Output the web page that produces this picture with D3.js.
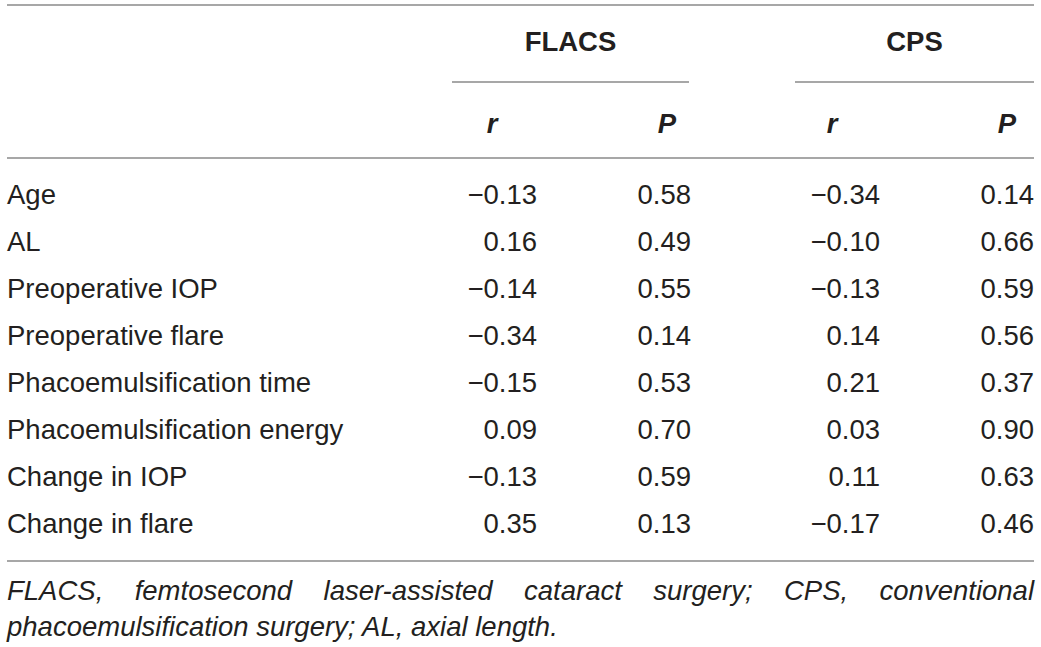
<!DOCTYPE html>
<html>
<head>
<meta charset="utf-8">
<script src="https://cdn.jsdelivr.net/npm/d3@7"></script>
<style>
  html, body { margin: 0; padding: 0; background: #fff; }
  text { font-family: "Liberation Sans", Arial, Helvetica, sans-serif; fill: #231f20; }
</style>
</head>
<body>
<div id="chart-area"></div>
<script>
// table values
const rowLabels = [
  "Age",
  "AL",
  "Preoperative IOP",
  "Preoperative flare",
  "Phacoemulsification time",
  "Phacoemulsification energy",
  "Change in IOP",
  "Change in flare"
];
const groups = ["FLACS", "CPS"];
const subHeads = ["r", "P"];

const flacsR = [-0.13, 0.16, -0.14, -0.34, -0.15, 0.09, -0.13, 0.35];
const flacsP = [0.58, 0.49, 0.55, 0.14, 0.53, 0.70, 0.59, 0.13];
const cpsR = [-0.34, -0.10, -0.13, 0.14, 0.21, 0.03, 0.11, -0.17];
const cpsP = [0.14, 0.66, 0.59, 0.56, 0.37, 0.90, 0.63, 0.46];

const footLine1 = "FLACS, femtosecond laser-assisted cataract surgery; CPS, conventional";
const footLine2 = "phacoemulsification surgery; AL, axial length.";

let svgW = 1041;
let svgH = 647;
let left = 7, right = 1034;
let fontSize = 27.5;

let columns = [
  { values: flacsR, head: subHeads[0], right: 537, headX: 492 },
  { values: flacsP, head: subHeads[1], right: 691, headX: 667 },
  { values: cpsR, head: subHeads[0], right: 880, headX: 832 },
  { values: cpsP, head: subHeads[1], right: 1034, headX: 1007 }
];
let groupSpans = [[452, 689], [795, 1034]];

const fmt = d3.format(".2f");

let svg = d3.select("#chart-area")
  .append("svg")
  .attr("width", svgW)
  .attr("height", svgH);

// row positions
let y = d3.scalePoint()
  .domain(rowLabels)
  .range([204, 204 + 47 * (rowLabels.length - 1)]);

const rule = (x1, x2, yy) => svg.append("line")
  .attr("x1", x1).attr("x2", x2)
  .attr("y1", yy).attr("y2", yy)
  .attr("stroke", "#8a8a8a")
  .attr("stroke-width", 1.5);

rule(left, right, 5);
rule(left, right, 158);
rule(left, right, 561);

// group headers and their rules
groups.forEach((g, i) => {
  let [x1, x2] = groupSpans[i];
  svg.append("text")
    .attr("x", (x1 + x2) / 2)
    .attr("y", 51)
    .attr("text-anchor", "middle")
    .attr("font-weight", "bold")
    .attr("font-size", fontSize)
    .text(g);
  rule(x1, x2, 82);
});

svg.selectAll("text.sub")
  .data(columns)
  .enter()
  .append("text")
  .attr("class", "sub")
  .attr("x", d => d.headX)
  .attr("y", 133)
  .attr("text-anchor", "middle")
  .attr("font-weight", "bold")
  .attr("font-style", "italic")
  .attr("font-size", fontSize)
  .text(d => d.head);

// row labels
svg.selectAll("text.label")
  .data(rowLabels)
  .enter()
  .append("text")
  .attr("class", "label")
  .attr("x", left)
  .attr("y", d => y(d))
  .attr("font-size", fontSize)
  .text(d => d);

// value cells
columns.forEach((col, ci) => {
  svg.selectAll("text.col" + ci)
    .data(col.values)
    .enter()
    .append("text")
    .attr("class", "col" + ci)
    .attr("x", col.right)
    .attr("y", (d, i) => y(rowLabels[i]))
    .attr("text-anchor", "end")
    .attr("font-size", fontSize)
    .text(d => fmt(d));
});

// footnote, first line justified
let words = footLine1.split(" ");
let wordSel = svg.selectAll("text.foot1")
  .data(words)
  .enter()
  .append("text")
  .attr("class", "foot1")
  .attr("y", 600)
  .attr("font-style", "italic")
  .attr("font-size", fontSize)
  .text(d => d);

let widths = [];
wordSel.each(function () { widths.push(this.getComputedTextLength()); });
let gap = (right - left - d3.sum(widths)) / (words.length - 1);
let xPos = left;
wordSel.attr("x", (d, i) => {
  let x = xPos;
  xPos += widths[i] + gap;
  return x;
});

svg.append("text")
  .attr("x", left)
  .attr("y", 636)
  .attr("font-style", "italic")
  .attr("font-size", fontSize)
  .text(footLine2);
</script>
</body>
</html>
